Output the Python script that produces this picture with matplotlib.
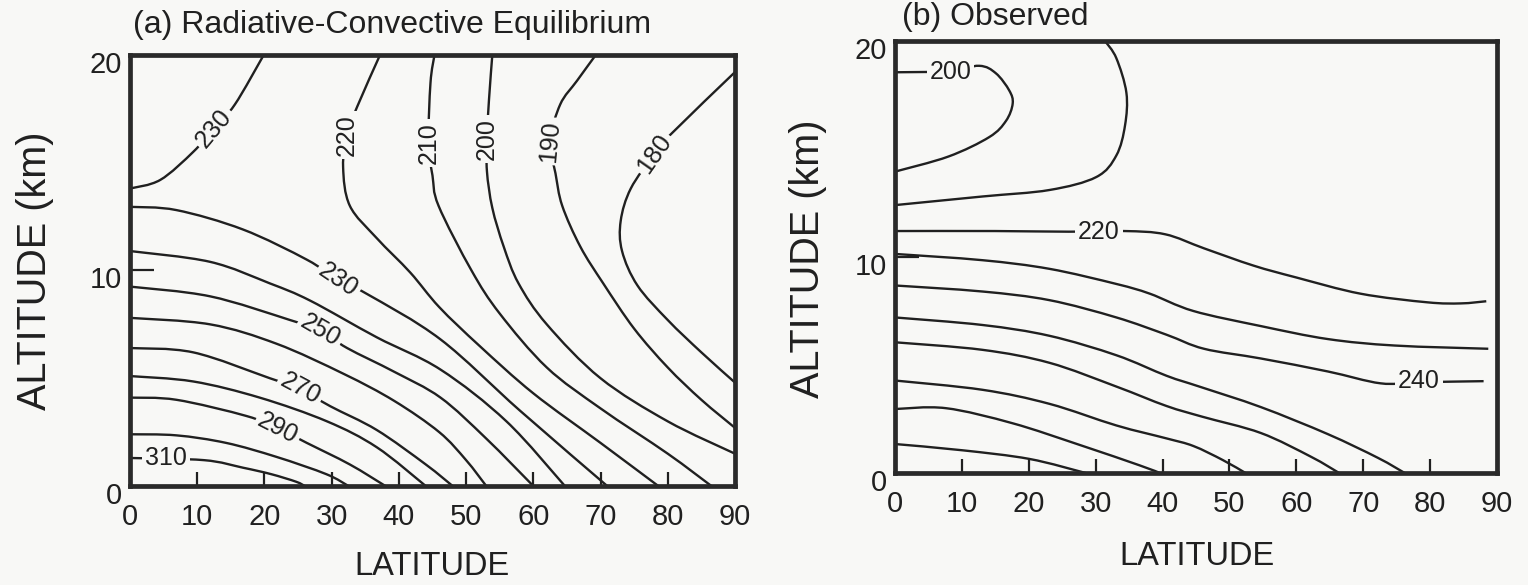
import matplotlib.pyplot as plt
import numpy as np
from matplotlib.path import Path
from matplotlib.patches import PathPatch
from matplotlib.transforms import ScaledTranslation

plt.rcParams['font.family'] = ['Liberation Sans', 'DejaVu Sans']

PAPER = '#f8f8f6'
INK = '#202020'

# (a) radiative-convective equilibrium: isotherms (K), each as latitude / altitude (km) points
rce_levels = [310, 300, 290, 280, 270, 260, 250, 240, 230, 230, 220, 210, 200, 190, 180]
rce_lat = [
    [0, 11, 16.8, 21, 24.7, 26],
    [0, 6.9, 14.3, 21.8, 29.2, 32.5],
    [0, 6.9, 17.3, 22, 26.3, 32.7, 38],
    [0, 9.4, 19.3, 29.3, 36.7, 44],
    [0, 9.4, 20.8, 25.3, 29.8, 36.7, 44, 48],
    [0, 11.9, 21.8, 31.8, 39.3, 46, 50, 53],
    [0, 11.9, 23.8, 28.3, 32.3, 39.3, 46.2, 53, 60],
    [0, 11.9, 20.8, 26.8, 36.7, 46.2, 56, 64.7],
    [0, 6.9, 16.8, 26.3, 31, 35.3, 46.2, 58, 71],
    [0, 4.5, 9.4, 12.5, 15.6, 19.9],
    [37.2, 33.8, 32.3, 31.7, 32.7, 36.7, 41.7, 46, 52, 60, 70, 78.6],
    [45.3, 44.7, 44.4, 45.0, 45.9, 50.8, 55, 62, 70, 80, 86.5],
    [53.9, 53.4, 53.1, 53.1, 53.9, 55.6, 57.8, 62, 70, 80, 90],
    [69.3, 66.5, 64.0, 62.5, 63.3, 64.3, 67.0, 70.4, 75, 80, 85, 90],
    [90, 80.4, 78, 74.5, 73.0, 73.2, 75.5, 80, 85, 90],
]
rce_alt = [
    [1.3, 1.2, 0.85, 0.55, 0.2, 0],
    [2.4, 2.35, 2.0, 1.35, 0.55, 0],
    [4.1, 4.0, 3.25, 2.67, 2.0, 1.0, 0],
    [5.1, 4.85, 4.1, 3.0, 1.8, 0],
    [6.4, 6.2, 5.0, 4.5, 3.7, 2.6, 1.0, 0],
    [7.8, 7.5, 6.6, 5.2, 3.95, 2.5, 1.2, 0],
    [9.25, 8.8, 7.7, 7.2, 6.4, 5.3, 4.1, 2.2, 0],
    [10.9, 10.4, 9.4, 8.6, 6.9, 5.4, 3.0, 0],
    [12.95, 12.8, 11.9, 10.5, 9.55, 8.9, 6.8, 3.5, 0],
    [13.8, 14.2, 15.5, 16.6, 17.7, 20],
    [20, 17.6, 16.3, 14.8, 13.0, 11.5, 9.9, 8.3, 6.5, 4.3, 2.0, 0],
    [20, 18.7, 15.9, 14.4, 13.0, 10.0, 8.0, 5.5, 3.6, 1.5, 0],
    [20, 17.9, 16.1, 14.6, 12.9, 11.1, 9.4, 7.5, 5.0, 3.0, 1.5],
    [20, 18.8, 17.7, 16.0, 14.5, 13.0, 11.1, 9.4, 7.3, 5.5, 4.0, 2.7],
    [19.2, 16.3, 15.4, 13.8, 12.3, 10.9, 9.3, 7.7, 6.2, 4.8],
]

# (b) observed zonal-mean temperature
obs_levels = [200, 210, 220, 230, 240, 250, 260, 270, 280, 290]
obs_lat = [
    [0, 8, 12.6, 15.1, 17.1, 17.6, 16.6, 14.1, 8.0, 0],
    [31.4, 33.1, 34.6, 34.4, 33.1, 30.1, 23.1, 13.1, 0],
    [0, 15, 26, 34.3, 40.4, 46.2, 53.6, 60, 69.6, 79.6, 84.6, 88.4],
    [0, 13.1, 23.1, 33.1, 38.1, 44.6, 54.7, 64.7, 74.7, 88.7],
    [0, 13.1, 23.1, 33.1, 40.6, 46.2, 54.7, 64.7, 72.6, 78, 88],
    [0, 13.1, 23.1, 33.1, 40.6, 45.5, 54.7, 64.7, 72.2, 76.2],
    [0, 13.1, 23.1, 33.1, 40.6, 46, 54.7, 62.2, 66.4],
    [0, 13.1, 23.1, 33.1, 40.6, 44.6, 49, 52.4],
    [0, 7.6, 17.6, 27.6, 36.6, 39.6],
    [0, 10.1, 20.1, 28.5],
]
obs_alt = [
    [18.55, 18.6, 18.85, 18.5, 17.7, 17.1, 16.3, 15.55, 14.65, 13.95],
    [20, 19.2, 17.6, 16.1, 14.7, 13.7, 13.1, 12.8, 12.4],
    [11.2, 11.2, 11.17, 11.2, 11.05, 10.4, 9.6, 9.05, 8.3, 7.9, 7.85, 7.95],
    [10.14, 9.85, 9.45, 8.75, 8.3, 7.5, 6.8, 6.2, 5.9, 5.75],
    [8.68, 8.4, 8.0, 7.2, 6.4, 5.75, 5.3, 4.7, 4.15, 4.2, 4.25],
    [7.2, 6.85, 6.35, 5.45, 4.5, 4.0, 3.05, 1.8, 0.7, 0],
    [6.05, 5.7, 5.1, 4.0, 3.1, 2.6, 1.85, 0.75, 0],
    [4.28, 3.85, 3.2, 2.2, 1.6, 1.25, 0.6, 0],
    [2.96, 3.0, 2.3, 1.3, 0.35, 0],
    [1.34, 1.05, 0.65, 0],
]

# label placement: (line index, latitude, altitude, rotation)
rce_labels = [(0, 5.4, 1.3, 0), (2, 22, 2.67, -27), (4, 25.3, 4.5, -28),
              (6, 28.3, 7.2, -30), (8, 31, 9.55, -34), (9, 12.5, 16.6, 50),
              (10, 32.3, 16.3, 90), (11, 44.4, 15.9, 90), (12, 53.1, 16.1, 90),
              (13, 62.5, 16.0, 85), (14, 78, 15.4, 55)]
obs_labels = [(0, 8.3, 18.55, 0), (2, 30.5, 11.15, 0), (4, 78.3, 4.25, 0)]


def smooth_path(x, y):
    # Catmull-Rom curve through the points, drawn as cubic Bezier segments
    p = np.column_stack([x, y]).astype(float)
    ext = np.vstack([p[0], p, p[-1]])
    verts, codes = [p[0]], [Path.MOVETO]
    for i in range(len(p) - 1):
        p0, p1, p2, p3 = ext[i], ext[i + 1], ext[i + 2], ext[i + 3]
        verts += [p1 + (p2 - p0) / 6, p2 - (p3 - p1) / 6, p2]
        codes += [Path.CURVE4] * 3
    return Path(verts, codes)


def draw_panel(ax, levels, lats, alts, labels):
    ax.set_facecolor(PAPER)
    for lat, alt in zip(lats, alts):
        ax.add_patch(PathPatch(smooth_path(lat, alt), fill=False, ec=INK,
                               lw=1.7, joinstyle='round'))
    for i, x, y, rot in labels:
        ax.text(x, y, str(levels[i]), rotation=rot, rotation_mode='anchor',
                ha='center', va='center', fontsize=18, color=INK, zorder=4,
                bbox=dict(boxstyle='square,pad=0.12', fc=PAPER, ec='none'))
    ax.set_xlim(0, 90)
    ax.set_ylim(0, 20)
    ax.set_xticks(range(0, 91, 10))
    ax.set_yticks([0, 10, 20])
    ax.tick_params(direction='in', width=1.6, colors=INK, labelsize=21)
    ax.tick_params(axis='x', length=10, pad=12)
    ax.tick_params(axis='y', length=17, pad=6)
    shift = ScaledTranslation(0, -5 / 72, fig.dpi_scale_trans)
    for lab in ax.get_yticklabels():
        lab.set_transform(lab.get_transform() + shift)
    for s in ax.spines.values():
        s.set_linewidth(3.4)
        s.set_color('#2a2a2a')
        s.set_zorder(5)


fig = plt.figure(figsize=(15.28, 5.85), dpi=100)
fig.patch.set_facecolor(PAPER)

ax_a = fig.add_axes([0.0851, 0.1692, 0.3959, 0.737])
ax_b = fig.add_axes([0.5857, 0.1915, 0.394, 0.7385])
draw_panel(ax_a, rce_levels, rce_lat, rce_alt, rce_labels)
draw_panel(ax_b, obs_levels, obs_lat, obs_alt, obs_labels)

fig.text(0.087, 0.957, '(a) Radiative-Convective Equilibrium', fontsize=23,
         color=INK, va='center')
fig.text(0.590, 0.971, '(b) Observed', fontsize=23, color=INK, va='center')
fig.text(0.2827, 0.031, 'LATITUDE', fontsize=23.5, color=INK, ha='center', va='center')
fig.text(0.7834, 0.048, 'LATITUDE', fontsize=23.5, color=INK, ha='center', va='center')
fig.text(0.0229, 0.5368, 'ALTITUDE (km)', fontsize=28.5, color=INK, rotation=90,
         ha='center', va='center')
fig.text(0.5288, 0.557, 'ALTITUDE (km)', fontsize=28.5, color=INK, rotation=90,
         ha='center', va='center')

fig.savefig('out.png', dpi=100, facecolor=PAPER)
